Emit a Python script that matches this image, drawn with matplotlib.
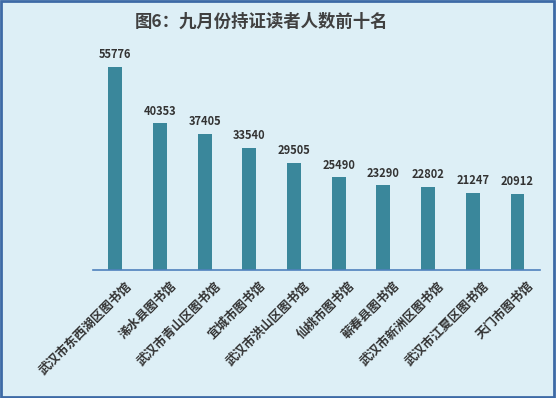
import matplotlib.pyplot as plt
import matplotlib.transforms as mtransforms
from matplotlib.patches import Rectangle

plt.rcParams['font.family'] = ['Noto Sans CJK SC', 'DejaVu Sans']

libraries = ['武汉市东西湖区图书馆', '浠水县图书馆', '武汉市青山区图书馆', '宜城市图书馆',
             '武汉市洪山区图书馆', '仙桃市图书馆', '蕲春县图书馆', '武汉市新洲区图书馆',
             '武汉市江夏区图书馆', '天门市图书馆']
readers = [55776, 40353, 37405, 33540, 29505, 25490, 23290, 22802, 21247, 20912]
title = '图6：九月份持证读者人数前十名'

bg = '#ddeff6'
bar_color = '#3a879b'
text_color = '#333333'

fig = plt.figure(figsize=(5.56, 3.98), dpi=100)
fig.patch.set_facecolor(bg)
fig.patches.append(Rectangle((0.002, 0.003), 0.995, 0.994, transform=fig.transFigure,
                             fill=False, edgecolor='#3d6aa6', linewidth=2))

ax = fig.add_axes([0.167, 0.3216, 0.804, 0.565])
ax.set_facecolor(bg)

x = range(len(readers))
bars = ax.bar(x, readers, width=0.31, color=bar_color)
ax.bar_label(bars, padding=4, fontsize=8, fontweight='bold', color=text_color)

ax.set_xlim(-0.5, len(readers) - 0.5)
ax.set_ylim(0, 61800)
ax.set_yticks([])
for side in ['left', 'right', 'top']:
    ax.spines[side].set_visible(False)
ax.spines['bottom'].set_color('#4f81bd')
ax.spines['bottom'].set_linewidth(1.2)

ax.set_xticks(list(x))
ax.set_xticklabels(libraries, rotation=45, ha='right', va='center',
                   rotation_mode='anchor', fontsize=9, fontweight='bold', color=text_color)
ax.tick_params(axis='x', length=0, pad=10)
offset = mtransforms.ScaledTranslation(14 / 100, 0, fig.dpi_scale_trans)
for lbl in ax.get_xticklabels():
    lbl.set_transform(lbl.get_transform() + offset)

fig.text(0.47, 0.945, title, ha='center', va='center', fontsize=12.5,
         fontweight='bold', color='#404040')

fig.savefig('out.png', dpi=100, facecolor=bg)
